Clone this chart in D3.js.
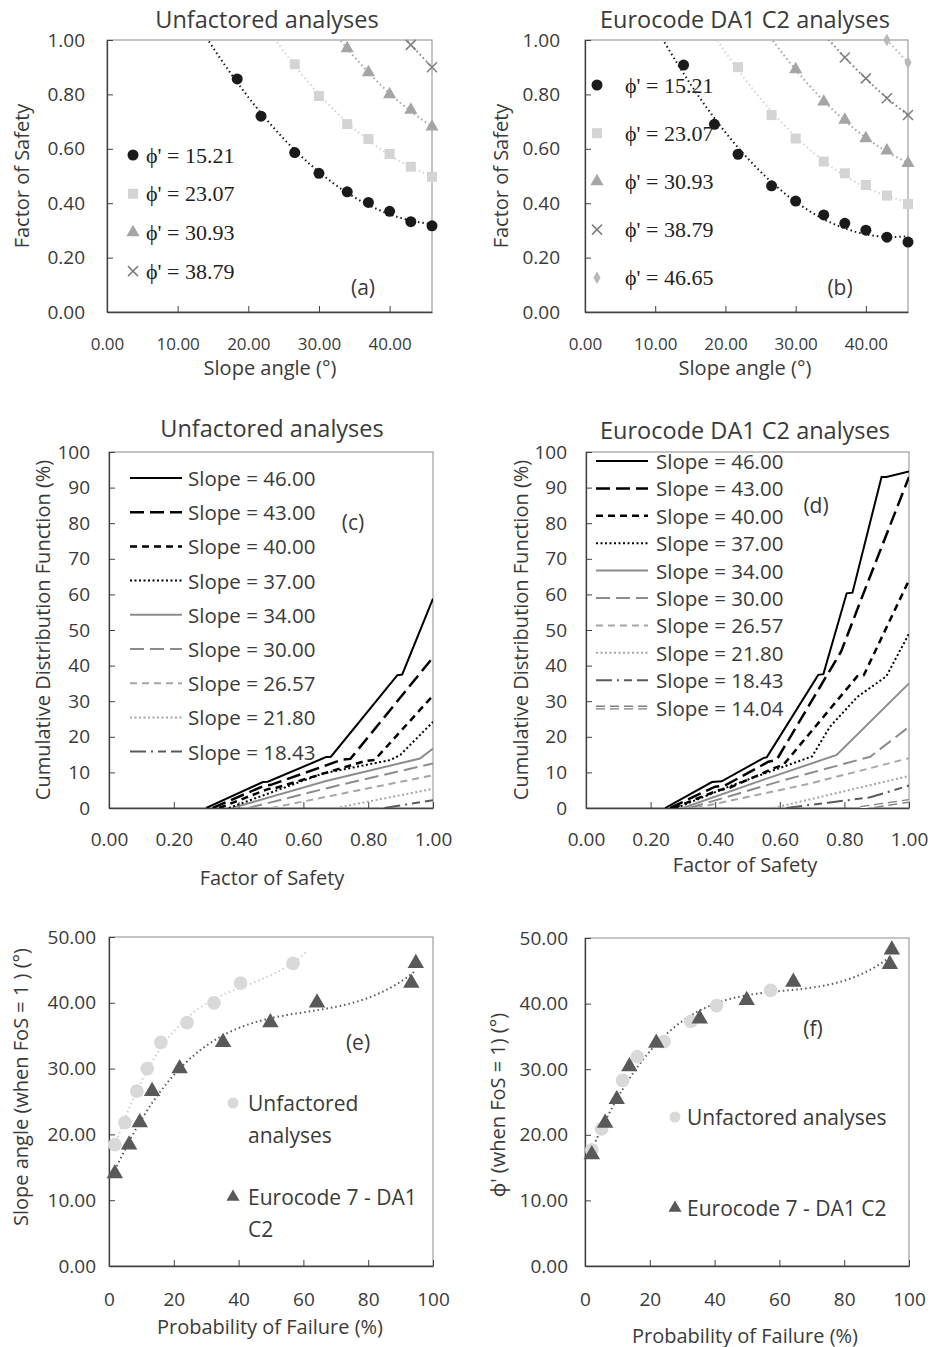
<!DOCTYPE html>
<html>
<head>
<meta charset="utf-8">
<script src="https://cdn.jsdelivr.net/npm/d3@7"></script>
<style>
body { margin: 0; background: #fff; }
svg text { font-family: "Open Sans", "Noto Sans", sans-serif; fill: #3a3a3a; }
svg text.serif { font-family: "Liberation Serif", "DejaVu Serif", serif; fill: #222; }
</style>
</head>
<body>
<svg id="chart" width="932" height="1347"></svg>
<script>
// slope angles analysed (deg)
const slopes = [14.04, 18.43, 21.80, 26.57, 30.00, 34.00, 37.00, 40.00, 43.00, 46.00];
const phiNames = ['15.21', '23.07', '30.93', '38.79', '46.65'];

// (a) unfactored FoS, each list ends at the 46 deg slope
const fosA_1521 = [0.857, 0.720, 0.586, 0.510, 0.442, 0.403, 0.370, 0.332, 0.317];
const fosA_2307 = [0.911, 0.794, 0.691, 0.636, 0.581, 0.534, 0.497];
const fosA_3093 = [0.969, 0.881, 0.800, 0.743, 0.681];
const fosA_3879 = [0.982, 0.900];

// (b) Eurocode DA1 C2 FoS
const fosB_1521 = [0.908, 0.690, 0.580, 0.464, 0.408, 0.357, 0.326, 0.301, 0.275, 0.257];
const fosB_2307 = [0.900, 0.724, 0.638, 0.553, 0.510, 0.467, 0.428, 0.397];
const fosB_3093 = [0.892, 0.773, 0.706, 0.638, 0.593, 0.547];
const fosB_3879 = [0.936, 0.859, 0.786, 0.724];
const fosB_4665 = [1.000, 0.917];

// (c) CDF [FoS, %] unfactored
const cdfU_46 = [[0.30, 0], [0.475, 7.3], [0.49, 7.4], [0.67, 14.3], [0.685, 14.4], [0.89, 37.3], [0.905, 37.5], [1.0, 58.8]];
const cdfU_43 = [[0.32, 0], [0.48, 6.3], [0.50, 6.5], [0.72, 13.6], [0.745, 13.8], [1.0, 42.3]];
const cdfU_40 = [[0.34, 0], [0.49, 5.3], [0.51, 5.5], [0.79, 13.2], [0.82, 13.5], [1.0, 31.6]];
const cdfU_37 = [[0.37, 0], [0.66, 9.7], [0.87, 13.5], [0.90, 15.0], [1.0, 24.2]];
const cdfU_34 = [[0.38, 0], [0.67, 7.6], [0.96, 13.9], [1.0, 16.7]];
const cdfU_30 = [[0.43, 0], [0.70, 6.2], [1.0, 12.5]];
const cdfU_2657 = [[0.50, 0], [1.0, 9.2]];
const cdfU_2180 = [[0.70, 0], [1.0, 5.4]];
const cdfU_1843 = [[0.85, 0], [1.0, 2.2]];

// (d) CDF [FoS, %] Eurocode DA1 C2
const cdfE_46 = [[0.245, 0], [0.39, 7.3], [0.42, 7.5], [0.549, 14.0], [0.56, 14.3], [0.719, 37.4], [0.735, 37.6], [0.807, 60.3], [0.825, 60.5], [0.915, 93.0], [0.93, 93.0], [1.0, 94.5]];
const cdfE_43 = [[0.26, 0], [0.40, 6.0], [0.43, 6.3], [0.565, 13.0], [0.59, 13.5], [0.79, 44.0], [0.86, 60.5], [1.0, 93.0]];
const cdfE_40 = [[0.27, 0], [0.41, 5.0], [0.44, 5.5], [0.59, 11.5], [0.61, 12.0], [0.84, 37.0], [0.86, 37.3], [1.0, 64.0]];
const cdfE_37 = [[0.28, 0], [0.45, 6.3], [0.70, 14.5], [0.755, 22.8], [0.84, 31.2], [0.93, 37.0], [1.0, 49.0]];
const cdfE_34 = [[0.30, 0], [0.548, 7.9], [0.776, 14.9], [1.0, 35.0]];
const cdfE_30 = [[0.32, 0], [0.60, 7.5], [0.88, 14.4], [1.0, 22.8]];
const cdfE_2657 = [[0.34, 0], [0.70, 7.0], [1.0, 14.0]];
const cdfE_2180 = [[0.58, 0], [1.0, 9.0]];
const cdfE_1843 = [[0.62, 0], [0.75, 1.5], [0.88, 3.0], [1.0, 6.3]];
const cdfE_1404 = [[0.85, 0], [1.0, 2.0]];

// (e) probability of failure (%) vs slope angle
const pfE_unf = [1.8, 4.9, 8.6, 11.8, 16.0, 24.1, 32.4, 40.6, 56.8];
const pfE_ec = [1.8, 6.2, 9.5, 13.3, 21.8, 35.2, 49.8, 64.2, 93.3, 94.7];

// (f) probability of failure (%) vs phi'
const pfF_unf = [2.1, 5.1, 11.6, 16.1, 24.4, 32.7, 40.6, 57.3];
const phiF_unf = [17.7, 20.9, 28.3, 31.9, 34.2, 37.3, 39.7, 42.0];
const pfF_ec = [2.1, 6.2, 9.8, 13.7, 22.0, 35.4, 49.9, 64.3, 94.1, 94.7];
const phiF_ec = [17.0, 21.8, 25.4, 30.4, 34.0, 37.7, 40.5, 43.3, 46.0, 48.2];

const svg = d3.select('#chart');
const f2 = d3.format('.2f');
const fInt = d3.format('d');

// line styles for the slope curves
const slopeStyle = {
    '46.00': {c: '#000', w: 2, dash: null},
    '43.00': {c: '#000', w: 2.5, dash: '14,6'},
    '40.00': {c: '#000', w: 2.5, dash: '7,5'},
    '37.00': {c: '#000', w: 2, dash: '2,2.5'},
    '34.00': {c: '#8c8c8c', w: 2, dash: null},
    '30.00': {c: '#8c8c8c', w: 2, dash: '14,6'},
    '26.57': {c: '#a6a6a6', w: 2, dash: '7,5'},
    '21.80': {c: '#a6a6a6', w: 2, dash: '2,2.5'},
    '18.43': {c: '#595959', w: 2, dash: '16,5,2,5,8,5'},
    '14.04': {c: '#7f7f7f', w: 4, dash: '9,5', hollow: true}
};

const phiStyle = {
    '15.21': {c: '#1a1a1a', type: 'circle'},
    '23.07': {c: '#d4d4d4', type: 'square'},
    '30.93': {c: '#a5a5a5', type: 'triangle'},
    '38.79': {c: '#7f7f7f', type: 'x'},
    '46.65': {c: '#b8b8b8', type: 'diamond'}
};

function polyfit(xs, ys, order) {
    const s = d3.max(xs, Math.abs);
    const n = order + 1;
    const A = d3.range(n).map(() => new Array(n + 1).fill(0));
    xs.forEach((xv, k) => {
        const t = xv / s;
        for (let i = 0; i < n; i++) {
            for (let j = 0; j < n; j++) A[i][j] += Math.pow(t, i + j);
            A[i][n] += ys[k] * Math.pow(t, i);
        }
    });
    for (let c = 0; c < n; c++) {
        let p = c;
        for (let r = c + 1; r < n; r++) if (Math.abs(A[r][c]) > Math.abs(A[p][c])) p = r;
        [A[c], A[p]] = [A[p], A[c]];
        for (let r = 0; r < n; r++) {
            if (r === c) continue;
            const f = A[r][c] / A[c][c];
            for (let k = c; k <= n; k++) A[r][k] -= f * A[c][k];
        }
    }
    const coef = A.map((row, i) => row[n] / row[i]);
    return xv => coef.reduce((acc, cv, i) => acc + cv * Math.pow(xv / s, i), 0);
}

function marker(g, type, cx, cy, color, big) {
    const k = big ? 1.25 : 1;
    if (type === 'x') {
        const r = 5 * k;
        g.append('path')
            .attr('d', `M${cx - r},${cy - r}L${cx + r},${cy + r}M${cx - r},${cy + r}L${cx + r},${cy - r}`)
            .attr('stroke', color).attr('stroke-width', 1.5).attr('fill', 'none');
        return;
    }
    const types = {circle: d3.symbolCircle, square: d3.symbolSquare, triangle: d3.symbolTriangle, diamond: d3.symbolDiamond};
    const sizes = {circle: 95, square: 100, triangle: 75, diamond: 45};
    g.append('path')
        .attr('d', d3.symbol().type(types[type]).size(sizes[type] * k * k)())
        .attr('transform', `translate(${cx},${cy})`)
        .attr('fill', color);
}

let clipId = 0;
function panel(o) {
    const x = d3.scaleLinear().domain(o.xDomain).range([o.x0, o.x1]);
    const y = d3.scaleLinear().domain(o.yDomain).range([o.yBot, o.yTop]);
    const g = svg.append('g');

    g.append('rect')
        .attr('x', o.x0).attr('y', o.yTop)
        .attr('width', o.x1 - o.x0).attr('height', o.yBot - o.yTop)
        .attr('fill', 'none').attr('stroke', '#8a8a8a').attr('stroke-width', 1);

    const ax = g.append('g')
        .attr('transform', `translate(0,${o.yBot})`)
        .call(d3.axisBottom(x).tickValues(o.xTicks).tickFormat(o.xFmt).tickSize(-6).tickSizeOuter(0).tickPadding(o.xPad));
    const ay = g.append('g')
        .attr('transform', `translate(${o.x0},0)`)
        .call(d3.axisLeft(y).tickValues(o.yTicks).tickFormat(o.yFmt).tickSize(-6).tickSizeOuter(0).tickPadding(o.yPad));
    [ax, ay].forEach(a => {
        a.attr('font-size', null).attr('font-family', null);
        a.select('.domain').attr('stroke', '#404040').attr('stroke-width', 1.3);
        a.selectAll('.tick line').attr('stroke', '#404040');
        a.selectAll('.tick text').style('font-size', '19px').attr('fill', '#3a3a3a');
    });
    if (o.xTickSize) ax.selectAll('.tick text').style('font-size', o.xTickSize);

    if (o.title) {
        g.append('text').attr('x', o.titleX).attr('y', o.titleY)
            .attr('text-anchor', 'middle').attr('dominant-baseline', 'central')
            .style('font-size', '23.5px').text(o.title);
    }
    g.append('text').attr('x', o.xTitleX).attr('y', o.xTitleY)
        .attr('text-anchor', 'middle').attr('dominant-baseline', 'central')
        .style('font-size', '20px').text(o.xTitle);
    g.append('text')
        .attr('transform', `translate(${o.yTitleX},${o.yTitleY}) rotate(-90)`)
        .attr('text-anchor', 'middle').attr('dominant-baseline', 'central')
        .style('font-size', '20px').text(o.yTitle);
    g.append('text').attr('x', o.tagX).attr('y', o.tagY)
        .attr('text-anchor', 'middle').attr('dominant-baseline', 'central')
        .style('font-size', '21px').attr('fill', '#555').text(o.tag);

    const id = 'clip' + (clipId++);
    svg.append('clipPath').attr('id', id).append('rect')
        .attr('x', o.x0).attr('y', o.yTop).attr('width', o.x1 - o.x0).attr('height', o.yBot - o.yTop);
    const plot = g.append('g').attr('clip-path', `url(#${id})`);
    const top = g.append('g');
    return {x, y, plot, top, g};
}

// ---------- (a) and (b) ----------
function fosPanel(p, seriesList, legend) {
    const line = d3.line().x(d => p.x(d[0])).y(d => p.y(d[1]));
    seriesList.forEach(s => {
        const xs = slopes.slice(slopes.length - s.fos.length);
        const st = phiStyle[s.phi];
        const fit = polyfit(xs, s.fos, Math.min(2, xs.length - 1));
        const pts = d3.range(xs[0] - 4, xs[xs.length - 1] + 0.01, 0.25).map(v => [v, fit(v)]);
        p.plot.append('path').attr('d', line(pts))
            .attr('fill', 'none').attr('stroke', st.c).attr('stroke-width', 2)
            .attr('stroke-dasharray', '1.5,3');
        xs.forEach((v, i) => marker(p.top, st.type, p.x(v), p.y(s.fos[i]), st.c));
    });
    seriesList.forEach((s, i) => {
        const st = phiStyle[s.phi];
        const ly = legend.y0 + i * legend.dy;
        marker(p.top, st.type, legend.mx, ly, st.c);
        p.top.append('text').attr('class', 'serif')
            .attr('x', legend.tx).attr('y', ly)
            .attr('dominant-baseline', 'central')
            .style('font-size', '22px')
            .text(`\u03D5' = ${s.phi}`);
    });
}

const pa = panel({
    x0: 107, x1: 432, yTop: 40, yBot: 312,
    xDomain: [0, 46], yDomain: [0, 1],
    xTicks: [0, 10, 20, 30, 40], yTicks: [0, 0.2, 0.4, 0.6, 0.8, 1.0],
    xFmt: f2, yFmt: f2, xPad: 26, yPad: 22, xTickSize: '17px',
    title: 'Unfactored analyses', titleX: 267, titleY: 19,
    xTitle: 'Slope angle (°)', xTitleX: 270, xTitleY: 367,
    yTitle: 'Factor of Safety', yTitleX: 21, yTitleY: 176,
    tag: '(a)', tagX: 363, tagY: 287
});
fosPanel(pa, [
    {phi: '15.21', fos: fosA_1521},
    {phi: '23.07', fos: fosA_2307},
    {phi: '30.93', fos: fosA_3093},
    {phi: '38.79', fos: fosA_3879}
], {mx: 133, tx: 146, y0: 155, dy: 38.7});

const pb = panel({
    x0: 585, x1: 908, yTop: 40, yBot: 312,
    xDomain: [0, 46], yDomain: [0, 1],
    xTicks: [0, 10, 20, 30, 40], yTicks: [0, 0.2, 0.4, 0.6, 0.8, 1.0],
    xFmt: f2, yFmt: f2, xPad: 26, yPad: 25, xTickSize: '17px',
    title: 'Eurocode DA1 C2 analyses', titleX: 745, titleY: 19,
    xTitle: 'Slope angle (°)', xTitleX: 745, xTitleY: 367,
    yTitle: 'Factor of Safety', yTitleX: 500, yTitleY: 176,
    tag: '(b)', tagX: 840, tagY: 287
});
fosPanel(pb, [
    {phi: '15.21', fos: fosB_1521},
    {phi: '23.07', fos: fosB_2307},
    {phi: '30.93', fos: fosB_3093},
    {phi: '38.79', fos: fosB_3879},
    {phi: '46.65', fos: fosB_4665}
], {mx: 597, tx: 625, y0: 85, dy: 48.2});

// ---------- (c) and (d) ----------
function drawStyled(g, d, st) {
    g.append('path').attr('d', d)
        .attr('fill', 'none').attr('stroke', st.c).attr('stroke-width', st.w)
        .attr('stroke-dasharray', st.dash);
    if (st.hollow) {
        g.append('path').attr('d', d)
            .attr('fill', 'none').attr('stroke', '#fff').attr('stroke-width', 1.4)
            .attr('stroke-dasharray', st.dash);
    }
}

function cdfPanel(p, seriesList, legend) {
    const line = d3.line().x(d => p.x(d[0])).y(d => p.y(d[1]));
    seriesList.slice().reverse().forEach(s => drawStyled(p.plot, line(s.pts), slopeStyle[s.slope]));
    seriesList.forEach((s, i) => {
        const ly = legend.y0 + i * legend.dy;
        drawStyled(p.top, `M${legend.x0},${ly}L${legend.x1},${ly}`, slopeStyle[s.slope]);
        p.top.append('text').attr('x', legend.tx).attr('y', ly)
            .attr('dominant-baseline', 'central')
            .style('font-size', '20.5px').attr('fill', '#2a2a2a')
            .text(`Slope = ${s.slope}`);
    });
}

const fosTicks = [0, 0.2, 0.4, 0.6, 0.8, 1.0];
const cdfTicks = d3.range(0, 101, 10);

const pc = panel({
    x0: 109, x1: 433, yTop: 452, yBot: 808,
    xDomain: [0, 1], yDomain: [0, 100],
    xTicks: fosTicks, yTicks: cdfTicks,
    xFmt: f2, yFmt: fInt, xPad: 25, yPad: 19,
    title: 'Unfactored analyses', titleX: 272, titleY: 428,
    xTitle: 'Factor of Safety', xTitleX: 272, xTitleY: 877,
    yTitle: 'Cumulative Distribution Function (%)', yTitleX: 42, yTitleY: 630,
    tag: '(c)', tagX: 353, tagY: 522
});
cdfPanel(pc, [
    {slope: '46.00', pts: cdfU_46},
    {slope: '43.00', pts: cdfU_43},
    {slope: '40.00', pts: cdfU_40},
    {slope: '37.00', pts: cdfU_37},
    {slope: '34.00', pts: cdfU_34},
    {slope: '30.00', pts: cdfU_30},
    {slope: '26.57', pts: cdfU_2657},
    {slope: '21.80', pts: cdfU_2180},
    {slope: '18.43', pts: cdfU_1843}
], {x0: 130, x1: 182, tx: 188, y0: 478, dy: 34.2});

const pd = panel({
    x0: 586, x1: 909, yTop: 452, yBot: 808,
    xDomain: [0, 1], yDomain: [0, 100],
    xTicks: fosTicks, yTicks: cdfTicks,
    xFmt: f2, yFmt: fInt, xPad: 25, yPad: 19,
    title: 'Eurocode DA1 C2 analyses', titleX: 745, titleY: 430,
    xTitle: 'Factor of Safety', xTitleX: 745, xTitleY: 864,
    yTitle: 'Cumulative Distribution Function (%)', yTitleX: 520, yTitleY: 630,
    tag: '(d)', tagX: 816, tagY: 505
});
cdfPanel(pd, [
    {slope: '46.00', pts: cdfE_46},
    {slope: '43.00', pts: cdfE_43},
    {slope: '40.00', pts: cdfE_40},
    {slope: '37.00', pts: cdfE_37},
    {slope: '34.00', pts: cdfE_34},
    {slope: '30.00', pts: cdfE_30},
    {slope: '26.57', pts: cdfE_2657},
    {slope: '21.80', pts: cdfE_2180},
    {slope: '18.43', pts: cdfE_1843},
    {slope: '14.04', pts: cdfE_1404}
], {x0: 596, x1: 648, tx: 656, y0: 461, dy: 27.4});

// ---------- (e) and (f) ----------
const pfTicks = [0, 20, 40, 60, 80, 100];
const angTicks = [0, 10, 20, 30, 40, 50];
const lightC = '#d9d9d9';
const darkC = '#595959';

function trend(p, xs, ys, color, fwd) {
    const fit = polyfit(xs, ys, 3);
    const pts = d3.range(xs[0], xs[xs.length - 1] + fwd + 0.01, 0.5).map(v => [v, fit(v)]);
    p.plot.append('path')
        .attr('d', d3.line().x(d => p.x(d[0])).y(d => p.y(d[1]))(pts))
        .attr('fill', 'none').attr('stroke', color).attr('stroke-width', 2)
        .attr('stroke-dasharray', '1.5,3');
}

const pe = panel({
    x0: 109, x1: 433, yTop: 937, yBot: 1266,
    xDomain: [0, 100], yDomain: [0, 50],
    xTicks: pfTicks, yTicks: angTicks,
    xFmt: fInt, yFmt: f2, xPad: 27, yPad: 13,
    xTitle: 'Probability of Failure (%)', xTitleX: 270, xTitleY: 1326,
    yTitle: 'Slope angle (when FoS = 1 ) (°)', yTitleX: 20, yTitleY: 1087,
    tag: '(e)', tagX: 358, tagY: 1042
});
const slopesUnf = slopes.slice(1);
trend(pe, pfE_unf, slopesUnf, '#cfcfcf', 4);
trend(pe, pfE_ec, slopes, darkC, 0);
pfE_unf.forEach((v, i) => marker(pe.top, 'circle', pe.x(v), pe.y(slopesUnf[i]), lightC, true));
pfE_ec.forEach((v, i) => marker(pe.top, 'triangle', pe.x(v), pe.y(slopes[i]), darkC, true));
marker(pe.top, 'circle', 233, 1103, lightC, false);
marker(pe.top, 'triangle', 233, 1197, darkC, false);
[['Unfactored', 1103], ['analyses', 1135], ['Eurocode 7 - DA1', 1197], ['C2', 1229]].forEach(t => {
    pe.top.append('text').attr('x', 248).attr('y', t[1])
        .attr('dominant-baseline', 'central').style('font-size', '21px').text(t[0]);
});

const pf = panel({
    x0: 585, x1: 909, yTop: 938, yBot: 1266,
    xDomain: [0, 100], yDomain: [0, 50],
    xTicks: pfTicks, yTicks: angTicks,
    xFmt: fInt, yFmt: f2, xPad: 27, yPad: 17,
    xTitle: 'Probability of Failure (%)', xTitleX: 745, xTitleY: 1335,
    yTitle: "\u03D5' (when FoS = 1) (°)", yTitleX: 497, yTitleY: 1105,
    tag: '(f)', tagX: 813, tagY: 1028
});
trend(pf, pfF_ec, phiF_ec, darkC, 0);
pfF_unf.forEach((v, i) => marker(pf.top, 'circle', pf.x(v), pf.y(phiF_unf[i]), lightC, true));
pfF_ec.forEach((v, i) => marker(pf.top, 'triangle', pf.x(v), pf.y(phiF_ec[i]), darkC, true));
marker(pf.top, 'circle', 675, 1117, lightC, false);
marker(pf.top, 'triangle', 675, 1208, darkC, false);
[['Unfactored analyses', 1117], ['Eurocode 7 - DA1 C2', 1208]].forEach(t => {
    pf.top.append('text').attr('x', 687).attr('y', t[1])
        .attr('dominant-baseline', 'central').style('font-size', '21px').text(t[0]);
});
</script>
</body>
</html>
